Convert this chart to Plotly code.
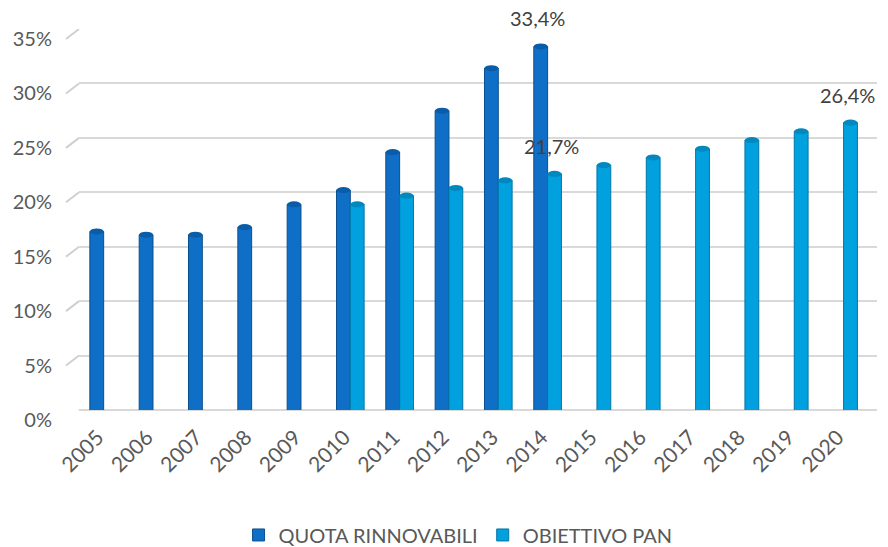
import plotly.graph_objects as go

# Italian renewable share vs. PAN target (percent)
years = [str(y) for y in range(2005, 2021)]
quota_rinnovabili = [16.4, 16.1, 16.1, 16.8, 18.9, 20.2, 23.7, 27.5, 31.4, 33.4,
                     None, None, None, None, None, None]
obiettivo_pan = [None, None, None, None, None, 18.9, 19.7, 20.4, 21.1, 21.7,
                 22.5, 23.2, 24.0, 24.8, 25.6, 26.4]
y_ticks = [0, 5, 10, 15, 20, 25, 30, 35]
y_tick_text = [f"{t}%" for t in y_ticks]

# (series values, category index, series position) that carry a value label
labelled = [(quota_rinnovabili, 9, 0), (obiettivo_pan, 9, 1), (obiettivo_pan, 15, 1)]

DARK = "#0F6FC6"
DARK_EDGE = "#0A4F8E"
LIGHT = "#00A1DE"
LIGHT_EDGE = "#0077A8"
FONT = "Lato"
TEXT = "#595959"

BARGAP = 0.44
bar_w = (1 - BARGAP) / 2  # width of one bar in category units

fig = go.Figure()
fig.add_trace(go.Bar(
    x=years, y=quota_rinnovabili, name="QUOTA RINNOVABILI",
    marker=dict(color=DARK, line=dict(color=DARK_EDGE, width=1)),
))
fig.add_trace(go.Bar(
    x=years, y=obiettivo_pan, name="OBIETTIVO PAN",
    marker=dict(color=LIGHT, line=dict(color=LIGHT_EDGE, width=1)),
))

shapes = []
# elliptical caps so the bars read as cylinders
for series, top_col, base_col, offset_sign in ((quota_rinnovabili, "#0B5CA8", DARK, -1),
                                               (obiettivo_pan, "#0088BF", LIGHT, 1)):
    for i, v in enumerate(series):
        if v is None:
            continue
        cx = i + offset_sign * bar_w / 2
        shapes.append(dict(type="circle", xref="x", yref="y",
                           x0=cx - bar_w / 2, x1=cx + bar_w / 2,
                           ysizemode="pixel", yanchor=v, y0=-3, y1=3,
                           fillcolor=top_col, line=dict(width=0), layer="above"))
        shapes.append(dict(type="circle", xref="x", yref="y",
                           x0=cx - bar_w / 2, x1=cx + bar_w / 2,
                           ysizemode="pixel", yanchor=0, y0=-3, y1=3,
                           fillcolor=base_col, line=dict(width=0), layer="above"))

# short slanted floor edges at the left of each gridline
for t in y_ticks:
    shapes.append(dict(type="line", xref="paper", yref="y",
                       xsizemode="pixel", xanchor=0, x0=-13, x1=0,
                       ysizemode="pixel", yanchor=t, y0=-10, y1=0,
                       line=dict(color="#D0D0D0", width=2), layer="below"))

annotations = []
for series, idx, which in labelled:
    v = series[idx]
    cx = idx + (-1 if which == 0 else 1) * bar_w / 2
    annotations.append(dict(
        x=cx, y=v, xref="x", yref="y", showarrow=False,
        text=f"{v:.1f}".replace(".", ",") + "%",
        yanchor="bottom", yshift=14, xshift=-3,
        font=dict(family=FONT, size=20, color="#404040"),
    ))

fig.update_layout(
    width=888, height=547,
    margin=dict(l=79, r=11, t=29, b=137, autoexpand=False),
    paper_bgcolor="white", plot_bgcolor="white",
    barmode="group", bargap=BARGAP, bargroupgap=0,
    shapes=shapes, annotations=annotations,
    font=dict(family=FONT, color=TEXT),
    legend=dict(orientation="h", x=0.475, xanchor="center",
                yref="container", y=0.022, yanchor="middle",
                font=dict(family=FONT, size=20, color=TEXT),
                itemwidth=30, tracegroupgap=0),
    xaxis=dict(type="category", tickangle=-45, showgrid=False, showline=False,
               ticks="", tickfont=dict(family=FONT, size=21, color=TEXT),
               ticklabelstandoff=10, ticklabelshift=-6, automargin=False),
    yaxis=dict(range=[0, 35], tickmode="array", tickvals=y_ticks, ticktext=y_tick_text,
               showgrid=True, gridcolor="#D9D9D9", gridwidth=2,
               zeroline=True, zerolinecolor="#D9D9D9", zerolinewidth=2,
               showline=False, ticks="", automargin=False,
               tickfont=dict(family=FONT, size=20, color=TEXT),
               ticklabelstandoff=26, ticklabelshift=10),
)

fig.write_html("out.html")
